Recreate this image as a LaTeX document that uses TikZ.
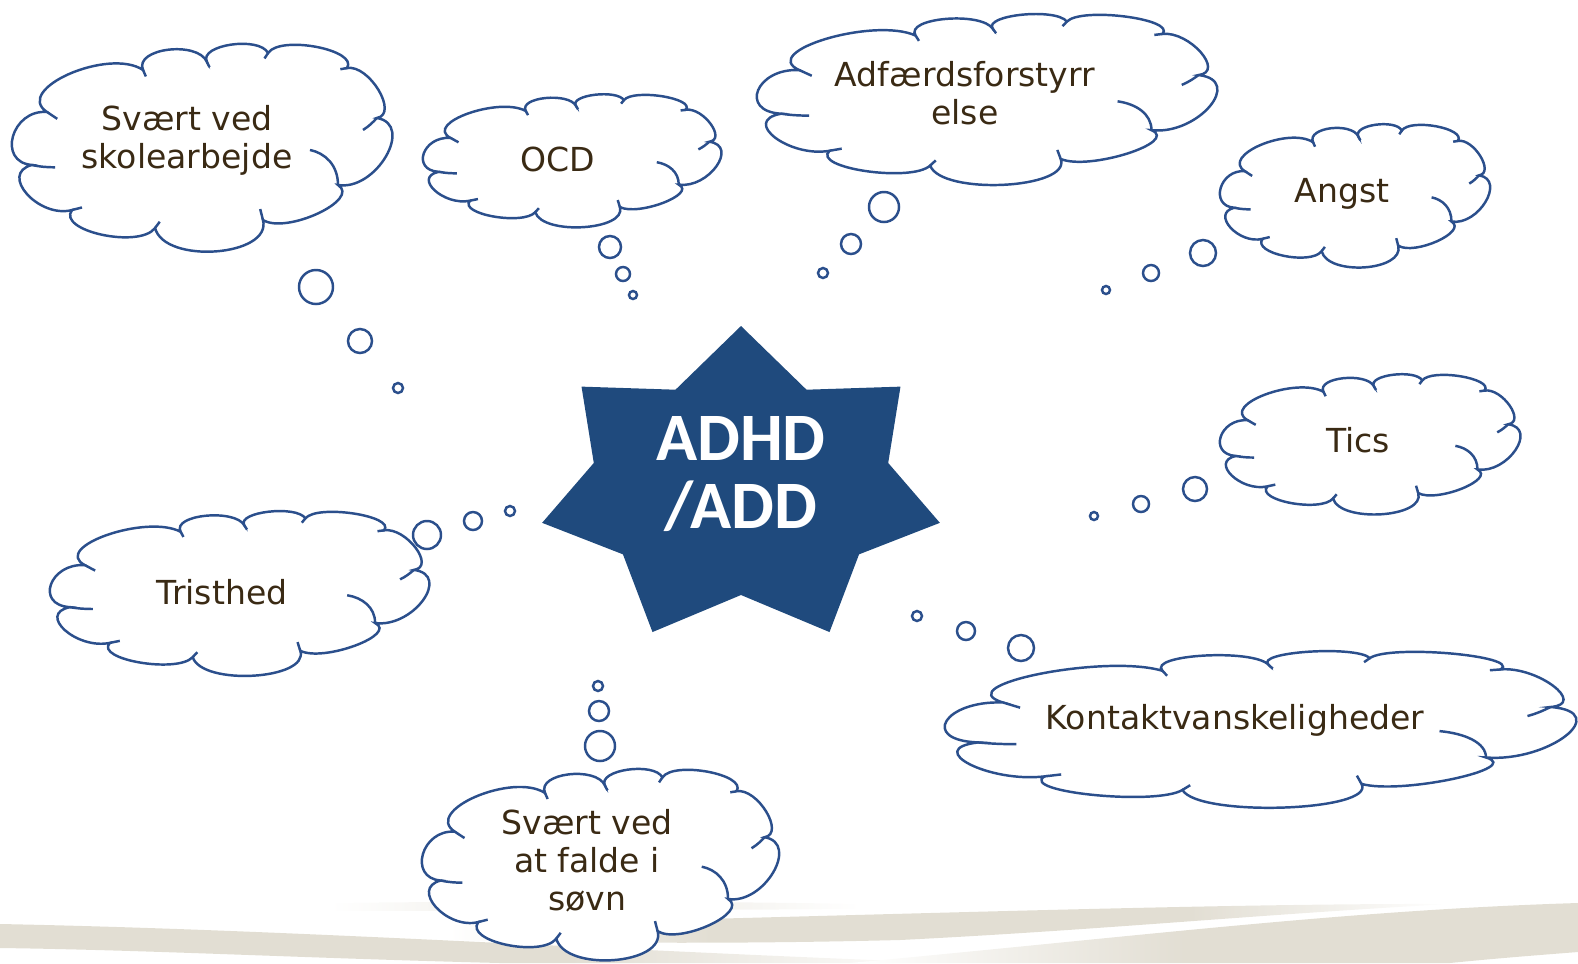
\documentclass[tikz,border=0pt]{standalone}
\usepackage{fontspec}
\setmainfont{DejaVu Sans}
\newfontfamily\starfont{Carlito}
\usepackage{tikz}
\definecolor{cbLine}{HTML}{2B4F8C}
\definecolor{cbStar}{HTML}{1F4A7D}
\definecolor{cbText}{HTML}{3A2A14}
\definecolor{cbSwoosh}{HTML}{E2DED3}
\pgfdeclarehorizontalshading{swooshA}{100bp}{color(0bp)=(cbSwoosh); color(25bp)=(cbSwoosh); color(55bp)=(cbSwoosh); color(75bp)=(white); color(100bp)=(white)}
\pgfdeclarehorizontalshading{swooshB}{100bp}{color(0bp)=(white); color(25bp)=(white); color(48bp)=(cbSwoosh); color(75bp)=(cbSwoosh); color(100bp)=(cbSwoosh)}
\pgfdeclarehorizontalshading{swooshC}{100bp}{color(0bp)=(white); color(25bp)=(white); color(38bp)=(cbSwoosh); color(62bp)=(cbSwoosh); color(75bp)=(white); color(100bp)=(white)}
\pgfdeclarehorizontalshading{swooshL}{100bp}{color(0bp)=(white); color(25bp)=(white); color(50bp)=(cbSwoosh!70); color(75bp)=(white); color(100bp)=(white)}
% puffs of the thought cloud, in a box from -1 to 1: start, end, bulge, tick
\def\cbpuffs{-0.814/-0.340/-0.894/0.182/0.27/0, -0.894/0.182/-0.681/0.626/0.30/1,
  -0.681/0.626/-0.239/0.803/0.35/1, -0.239/0.803/0.335/0.724/0.47/1,
  0.335/0.724/0.734/0.379/0.27/0, 0.734/0.379/0.941/-0.281/0.23/0,
  0.941/-0.281/0.782/-0.773/0.18/1, 0.782/-0.773/0.362/-0.921/0.32/1,
  0.362/-0.921/0.037/-0.833/0.39/1, 0.037/-0.833/-0.303/-0.754/0.47/1,
  -0.303/-0.754/-0.814/-0.340/0.33/1}
\tikzset{
  cb-line/.style={draw=cbLine, line width=0.7pt},
  pics/thought/.style={code={
    \filldraw[cb-line, fill=white] (-0.814,-0.340)
      \foreach \ju/\jv/\ku/\kv/\pb/\tk in \cbpuffs {
        .. controls ({\ju-4/3*\pb*(\kv-\jv)},{\jv+4/3*\pb*(\ku-\ju)})
                and ({\ku-4/3*\pb*(\kv-\jv)},{\kv+4/3*\pb*(\ku-\ju)}) .. (\ku,\kv)
      } -- cycle;
    \draw[cb-line]
      \foreach \ju/\jv/\ku/\kv/\pb/\tk in \cbpuffs {
        (\ku,\kv) -- ({\ku+0.4*\tk*\pb*(\kv-\jv)},{\kv-0.4*\tk*\pb*(\ku-\ju)})
      };
    \draw[cb-line] (-0.894,0.182) .. controls (-0.85,0.20) and (-0.81,0.205) .. (-0.771,0.205);
    \draw[cb-line] (0.941,-0.281) .. controls (0.92,-0.24) and (0.90,-0.20) .. (0.867,-0.163);
    \draw[cb-line] (0.734,0.379) .. controls (0.734,0.182) and (0.665,0.064) .. (0.585,0.034);
  }},
  cb-bubble/.style={circle, cb-line, fill=white, inner sep=0pt},
  cb-text/.style={align=center, text=cbText, font=\fontsize{9.4}{10.8}\selectfont},
  cb-star/.style={align=center, text=white, font=\starfont\bfseries\fontsize{19.3}{19.6}\selectfont},
}

\begin{document}
\begin{tikzpicture}[x=0.01cm, y=-0.01cm]
  \useasboundingbox (0,0) rectangle (1578,963);

  % swoosh at the bottom
  \shade[shading=swooshA]
    (0,924) .. controls (300,930) and (600,950) .. (950,963)
    -- (500,963) .. controls (300,958) and (150,950) .. (0,948) -- cycle;
  \shade[shading=swooshL]
    (330,903) .. controls (500,901) and (700,901) .. (860,904)
    -- (860,909) .. controls (700,910) and (500,911) .. (330,911) -- cycle;
  \shade[shading=swooshC]
    (450,925) .. controls (800,918) and (1200,903) .. (1450,904)
    .. controls (1250,915) and (1100,930) .. (900,940)
    .. controls (700,945) and (550,942) .. (450,940) -- cycle;
  \shade[shading=swooshB]
    (1578,903) .. controls (1350,910) and (1150,935) .. (850,963)
    -- (1450,963) .. controls (1500,958) and (1540,955) .. (1578,952) -- cycle;

  % star
  \fill[cbStar] plot[samples at={0,...,13}]
    ({741+ifthenelse(mod(\x,2)==0,204,151)*cos(90-\x*360/14)},
     {487-ifthenelse(mod(\x,2)==0,161,108)*sin(90-\x*360/14)}) -- cycle;
  \node[cb-star] (adhd) at (741,474) {ADHD\\/ADD};

  % clouds
  \pic[xscale=188,   yscale=101.5] (skole)   at (200,146.5)  {thought};
  \pic[xscale=147.5, yscale=65]    (ocd)     at (570.5,160)  {thought};
  \pic[xscale=227.5, yscale=83.5]  (adf)     at (984.5,98.5) {thought};
  \pic[xscale=133.5, yscale=70]    (angst)   at (1353.5,195) {thought};
  \pic[xscale=148.5, yscale=68.5]  (tics)    at (1368.5,443.5) {thought};
  \pic[xscale=187.5, yscale=80.5]  (trist)   at (237.5,592.5) {thought};
  \pic[xscale=312,   yscale=76.5]  (kontakt) at (1257,728.5) {thought};
  \pic[xscale=176.5, yscale=93.5]  (sovn)    at (598.5,863.5) {thought};

  \node[cb-text] (skole-t)   at (187,140)  {Svært ved\\skolearbejde};
  \node[cb-text] (ocd-t)     at (558,159)  {OCD};
  \node[cb-text] (adf-t)     at (965,93)   {Adfærdsforstyrr\\else};
  \node[cb-text] (angst-t)   at (1342,194) {Angst};
  \node[cb-text] (tics-t)    at (1358,440) {Tics};
  \node[cb-text] (trist-t)   at (222,592)  {Tristhed};
  \node[cb-text] (kontakt-t) at (1235,720) {Kontaktvanskeligheder};
  \node[cb-text] (sovn-t)    at (587,861)  {Svært ved\\at falde i\\søvn};

  % thought bubbles
  \node[cb-bubble, minimum size=0.34cm] (skole-b1)   at (316,287)  {};
  \node[cb-bubble, minimum size=0.24cm] (skole-b2)   at (360,341)  {};
  \node[cb-bubble, minimum size=0.10cm] (skole-b3)   at (398,388)  {};
  \node[cb-bubble, minimum size=0.22cm] (ocd-b1)     at (610,247)  {};
  \node[cb-bubble, minimum size=0.14cm] (ocd-b2)     at (623,274)  {};
  \node[cb-bubble, minimum size=0.08cm] (ocd-b3)     at (633,295)  {};
  \node[cb-bubble, minimum size=0.30cm] (adf-b1)     at (884,207)  {};
  \node[cb-bubble, minimum size=0.20cm] (adf-b2)     at (851,244)  {};
  \node[cb-bubble, minimum size=0.10cm] (adf-b3)     at (823,273)  {};
  \node[cb-bubble, minimum size=0.26cm] (angst-b1)   at (1203,253) {};
  \node[cb-bubble, minimum size=0.16cm] (angst-b2)   at (1151,273) {};
  \node[cb-bubble, minimum size=0.08cm] (angst-b3)   at (1106,290) {};
  \node[cb-bubble, minimum size=0.24cm] (tics-b1)    at (1195,489) {};
  \node[cb-bubble, minimum size=0.16cm] (tics-b2)    at (1141,504) {};
  \node[cb-bubble, minimum size=0.08cm] (tics-b3)    at (1094,516) {};
  \node[cb-bubble, minimum size=0.28cm] (trist-b1)   at (427,535)  {};
  \node[cb-bubble, minimum size=0.18cm] (trist-b2)   at (473,521)  {};
  \node[cb-bubble, minimum size=0.10cm] (trist-b3)   at (510,511)  {};
  \node[cb-bubble, minimum size=0.26cm] (kontakt-b1) at (1021,648) {};
  \node[cb-bubble, minimum size=0.18cm] (kontakt-b2) at (966,631)  {};
  \node[cb-bubble, minimum size=0.10cm] (kontakt-b3) at (917,616)  {};
  \node[cb-bubble, minimum size=0.30cm] (sovn-b1)    at (600,746)  {};
  \node[cb-bubble, minimum size=0.20cm] (sovn-b2)    at (599,711)  {};
  \node[cb-bubble, minimum size=0.10cm] (sovn-b3)    at (598,686)  {};
\end{tikzpicture}
\end{document}
